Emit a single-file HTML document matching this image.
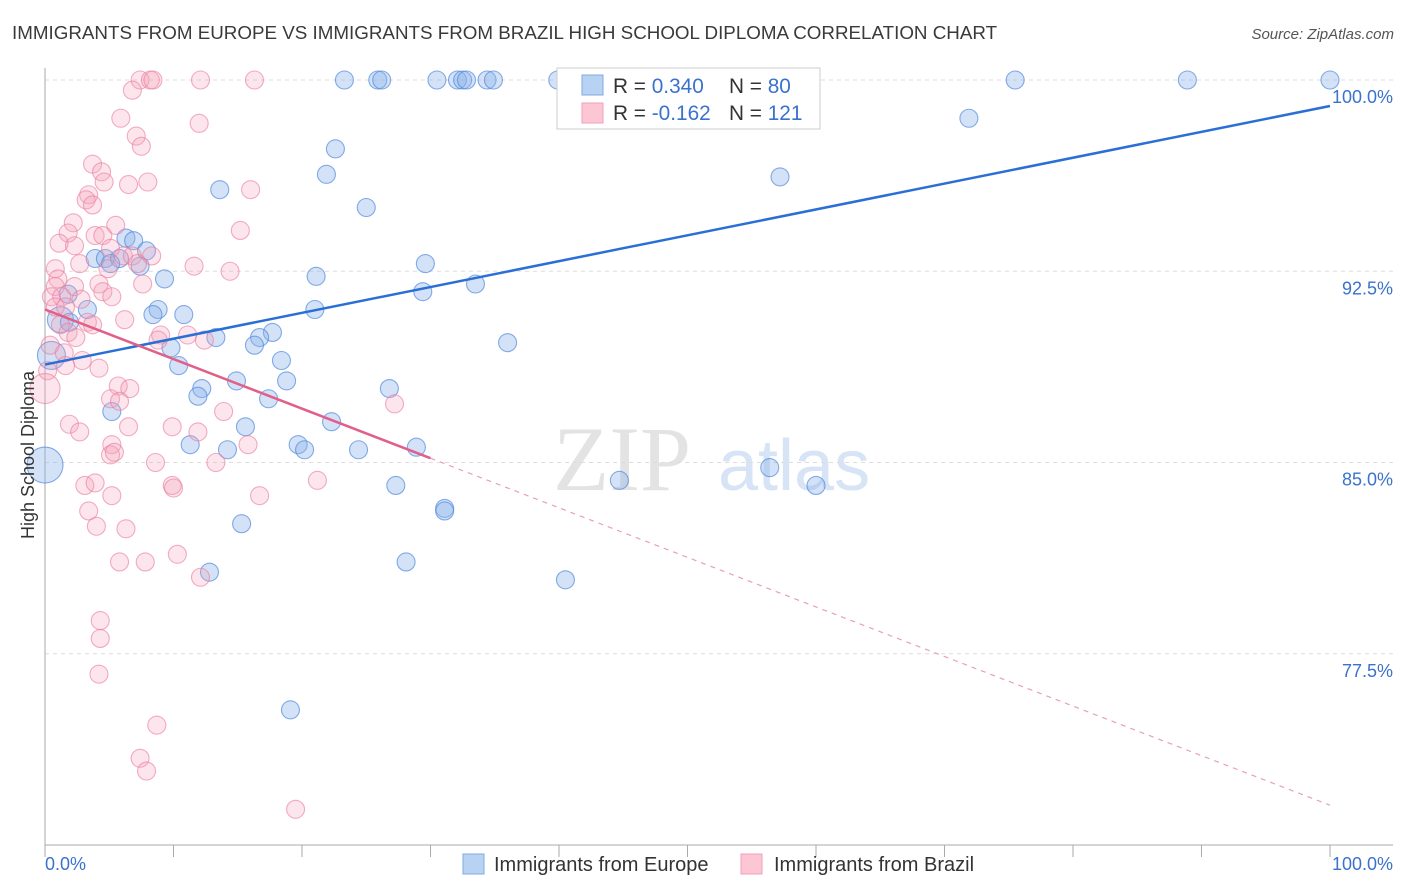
<!DOCTYPE html>
<html><head><meta charset="utf-8"><style>
body{margin:0;background:#fff;font-family:"Liberation Sans",sans-serif;}
svg{display:block}
</style></head><body>
<svg id="chart" width="1406" height="892" xmlns="http://www.w3.org/2000/svg">
<text x="12" y="39" font-size="18.8" fill="#3a3a3a">IMMIGRANTS FROM EUROPE VS IMMIGRANTS FROM BRAZIL HIGH SCHOOL DIPLOMA CORRELATION CHART</text>
<text x="1394" y="39" font-size="15" fill="#555" font-style="italic" text-anchor="end">Source: ZipAtlas.com</text>
<g>
<text x="553" y="490" font-size="92" font-family="Liberation Serif,serif" fill="#e3e3e3">ZIP</text>
<text x="718" y="490" font-size="72" fill="#d6e4f5">atlas</text>
</g>
<g id="grid"></g>
<g id="axes"></g>
<g id="marks"></g>
<g id="lines"></g>
<text transform="translate(34,455) rotate(-90)" font-size="18" fill="#333" text-anchor="middle">High School Diploma</text>
<g>
<rect x="557" y="68" width="263" height="61" fill="#fff" stroke="#ccc"/>
<rect x="582" y="75" width="21" height="20" fill="#b8d2f4" stroke="#7fa9e0"/>
<rect x="582" y="103" width="21" height="20" fill="#fcc6d4" stroke="#f0a0b8"/>
<text x="613" y="93" font-size="20.8" fill="#333">R = <tspan fill="#3a72cc">0.340</tspan></text>
<text x="729" y="93" font-size="20.8" fill="#333">N = <tspan fill="#3a72cc">80</tspan></text>
<text x="613" y="120" font-size="20.8" fill="#333">R = <tspan fill="#3a72cc">-0.162</tspan></text>
<text x="729" y="120" font-size="20.8" fill="#333">N = <tspan fill="#3a72cc">121</tspan></text>
</g>
<g>
<rect x="463" y="854" width="21" height="20" fill="#b8d2f4" stroke="#7fa9e0"/>
<text x="494" y="871" font-size="20" fill="#333">Immigrants from Europe</text>
<rect x="741" y="854" width="21" height="20" fill="#fcc6d4" stroke="#f0a0b8"/>
<text x="774" y="871" font-size="20" fill="#333">Immigrants from Brazil</text>
</g>
</svg>
<script>
const yTicks=[100,92.5,85,77.5];
const yTickLabels=["100.0%","92.5%","85.0%","77.5%"];
const xEdgeLabels=["0.0%","100.0%"];
const europeX=[23.3,25.9,26.2,30.5,32.1,32.5,32.8,34.4,34.9,39.9,47.7,75.5,88.9,100,71.9,22.6,21.9,57.2,13.6,25.0,6.3,6.9,7.9,3.9,4.7,5.8,7.4,5.1,29.6,9.3,21.1,33.5,29.4,1.8,8.8,8.4,10.8,21.0,3.3,1.2,1.9,17.7,16.7,16.3,13.3,9.8,36.0,0.5,18.4,10.4,14.9,18.8,12.2,26.8,11.9,17.4,5.2,22.3,15.6,19.7,20.2,11.3,14.2,24.4,28.9,0,56.4,44.7,27.3,60.0,31.1,31.1,15.3,28.1,12.8,40.5,19.1];
const europeY=[100,100,100,100,100,100,100,100,100,100,100,100,100,100,98.5,97.3,96.3,96.2,95.7,95.0,93.8,93.7,93.3,93.0,93.0,93.0,92.7,92.8,92.8,92.2,92.3,92.0,91.7,91.6,91.0,90.8,90.8,91.0,91.0,90.6,90.5,90.1,89.9,89.6,89.9,89.5,89.7,89.2,89.0,88.8,88.2,88.2,87.9,87.9,87.6,87.5,87.0,86.6,86.4,85.7,85.5,85.7,85.5,85.5,85.6,84.9,84.8,84.3,84.1,84.1,83.2,83.1,82.6,81.1,80.7,80.4,75.3];
const europeR=[9,9,9,9,9,9,9,9,9,9,9,9,9,9,9,9,9,9,9,9,9,9,9,9,9,9,9,9,9,9,9,9,9,9,9,9,9,9,9,13,9,9,9,9,9,9,9,14,9,9,9,9,9,9,9,9,9,9,9,9,9,9,9,9,9,18,9,9,9,9,9,9,9,9,9,9,9];
const brazilX=[7.4,8.2,8.4,12.1,16.3,6.8,5.9,12.0,7.1,7.5,3.7,4.4,4.6,8.0,6.5,16.0,3.4,3.2,3.7,5.5,2.2,15.2,1.8,3.9,4.5,1.1,2.3,5.1,6.1,6.8,8.3,2.7,11.6,0.8,1.0,4.9,7.2,14.4,7.6,4.2,0.8,2.3,4.5,0.5,1.3,2.8,5.2,0.8,1.6,3.3,6.2,3.7,1.2,1.8,2.4,9.0,11.1,12.4,8.8,0.4,1.5,2.9,4.2,1.6,0.2,0,5.7,6.6,5.1,5.8,13.9,27.2,1.9,2.7,6.5,9.9,11.9,5.2,5.1,5.4,15.8,8.6,13.3,3.1,3.9,9.9,10.0,21.2,5.2,16.7,3.4,6.3,4.0,10.3,5.8,7.8,12.1,4.3,4.3,4.2,8.7,7.4,7.9,19.5];
const brazilY=[100,100,100,100,100,99.6,98.5,98.3,97.8,97.4,96.7,96.4,96.0,96.0,95.9,95.7,95.5,95.3,95.1,94.3,94.4,94.1,94.0,93.9,93.9,93.6,93.5,93.4,93.1,93.1,93.1,92.8,92.7,92.6,92.2,92.6,92.8,92.5,92.0,92.0,91.9,91.9,91.7,91.5,91.5,91.4,91.5,91.1,91.1,90.5,90.6,90.4,90.4,90.1,89.9,90.0,90.0,89.8,89.8,89.6,89.3,89.0,88.7,88.8,88.6,87.9,88.0,87.9,87.5,87.4,87.0,87.3,86.5,86.2,86.4,86.4,86.2,85.7,85.3,85.4,85.7,85.0,85.0,84.1,84.2,84.1,84.0,84.3,83.7,83.7,83.1,82.4,82.5,81.4,81.1,81.1,80.5,78.8,78.1,76.7,74.7,73.4,72.9,71.4];
const europeTrend=[88.84,98.98];
const brazilTrend=[91.0,71.56];
const X0=45,X1=1330,YT=80,YB=845,VMIN=70,VMAX=100;
const sx=v=>X0+(v/100)*(X1-X0);
const sy=v=>YT+(VMAX-v)/(VMAX-VMIN)*(YB-YT);
const NS="http://www.w3.org/2000/svg";
function mk(tag,attrs,parent){const e=document.createElementNS(NS,tag);for(const k in attrs)e.setAttribute(k,attrs[k]);parent.appendChild(e);return e;}
const grid=document.getElementById('grid'),axes=document.getElementById('axes'),marks=document.getElementById('marks'),lines=document.getElementById('lines');
yTicks.forEach((t,i)=>{
 const l=mk('line',{x1:X0,x2:1393,y1:sy(t),y2:sy(t),stroke:'#ddd','stroke-dasharray':'4,4'},grid);
 
 
 const tx=mk('text',{x:1393,y:sy(t)+23,'font-size':18,fill:'#3a72cc','text-anchor':'end'},axes);
 tx.textContent=yTickLabels[i];
 
 
});
const ax=mk('line',{x1:X0,x2:1393,y1:YB,y2:YB,stroke:'#aaa'},axes);


const ay=mk('line',{x1:X0,x2:X0,y1:68,y2:YB,stroke:'#aaa'},axes);


for(let i=0;i<=10;i++){
 const tk=mk('line',{x1:sx(i*10),x2:sx(i*10),y1:YB,y2:YB+12,stroke:'#aaa'},axes);
 
 
}
[[0,'start',X0],[1,'end',1393]].forEach(([i,a,x])=>{
 const t=mk('text',{x:x,y:870,'font-size':18,fill:'#3a72cc','text-anchor':a},axes);
 t.textContent=xEdgeLabels[i];
 
 
});
europeX.forEach((x,i)=>{
 const c=mk('circle',{cx:sx(x),cy:sy(europeY[i]),r:europeR[i],fill:'rgba(140,180,235,0.38)',stroke:'rgba(70,130,220,0.65)','stroke-width':1.1},marks);
 
 
});
const brazilR=brazilX.map((x,i)=>i===65?15:9);
brazilX.forEach((x,i)=>{
 const c=mk('circle',{cx:sx(x),cy:sy(brazilY[i]),r:brazilR[i],fill:'rgba(245,160,185,0.28)',stroke:'rgba(235,120,155,0.6)','stroke-width':1.1},marks);
 
 
});
const bl=mk('line',{x1:sx(0),y1:sy(europeTrend[0]),x2:sx(100),y2:sy(europeTrend[1]),stroke:'#2a6fd6','stroke-width':2.5},lines);


const bv=x=>brazilTrend[0]+(brazilTrend[1]-brazilTrend[0])*x/100;
const pl=mk('line',{x1:sx(0),y1:sy(bv(0)),x2:sx(30),y2:sy(bv(30)),stroke:'#e0608a','stroke-width':2.5},lines);


const pd=mk('line',{x1:sx(30),y1:sy(bv(30)),x2:sx(100),y2:sy(bv(100)),stroke:'#e8a0b6','stroke-width':1.2,'stroke-dasharray':'5,5'},lines);


</script>
</body></html>
